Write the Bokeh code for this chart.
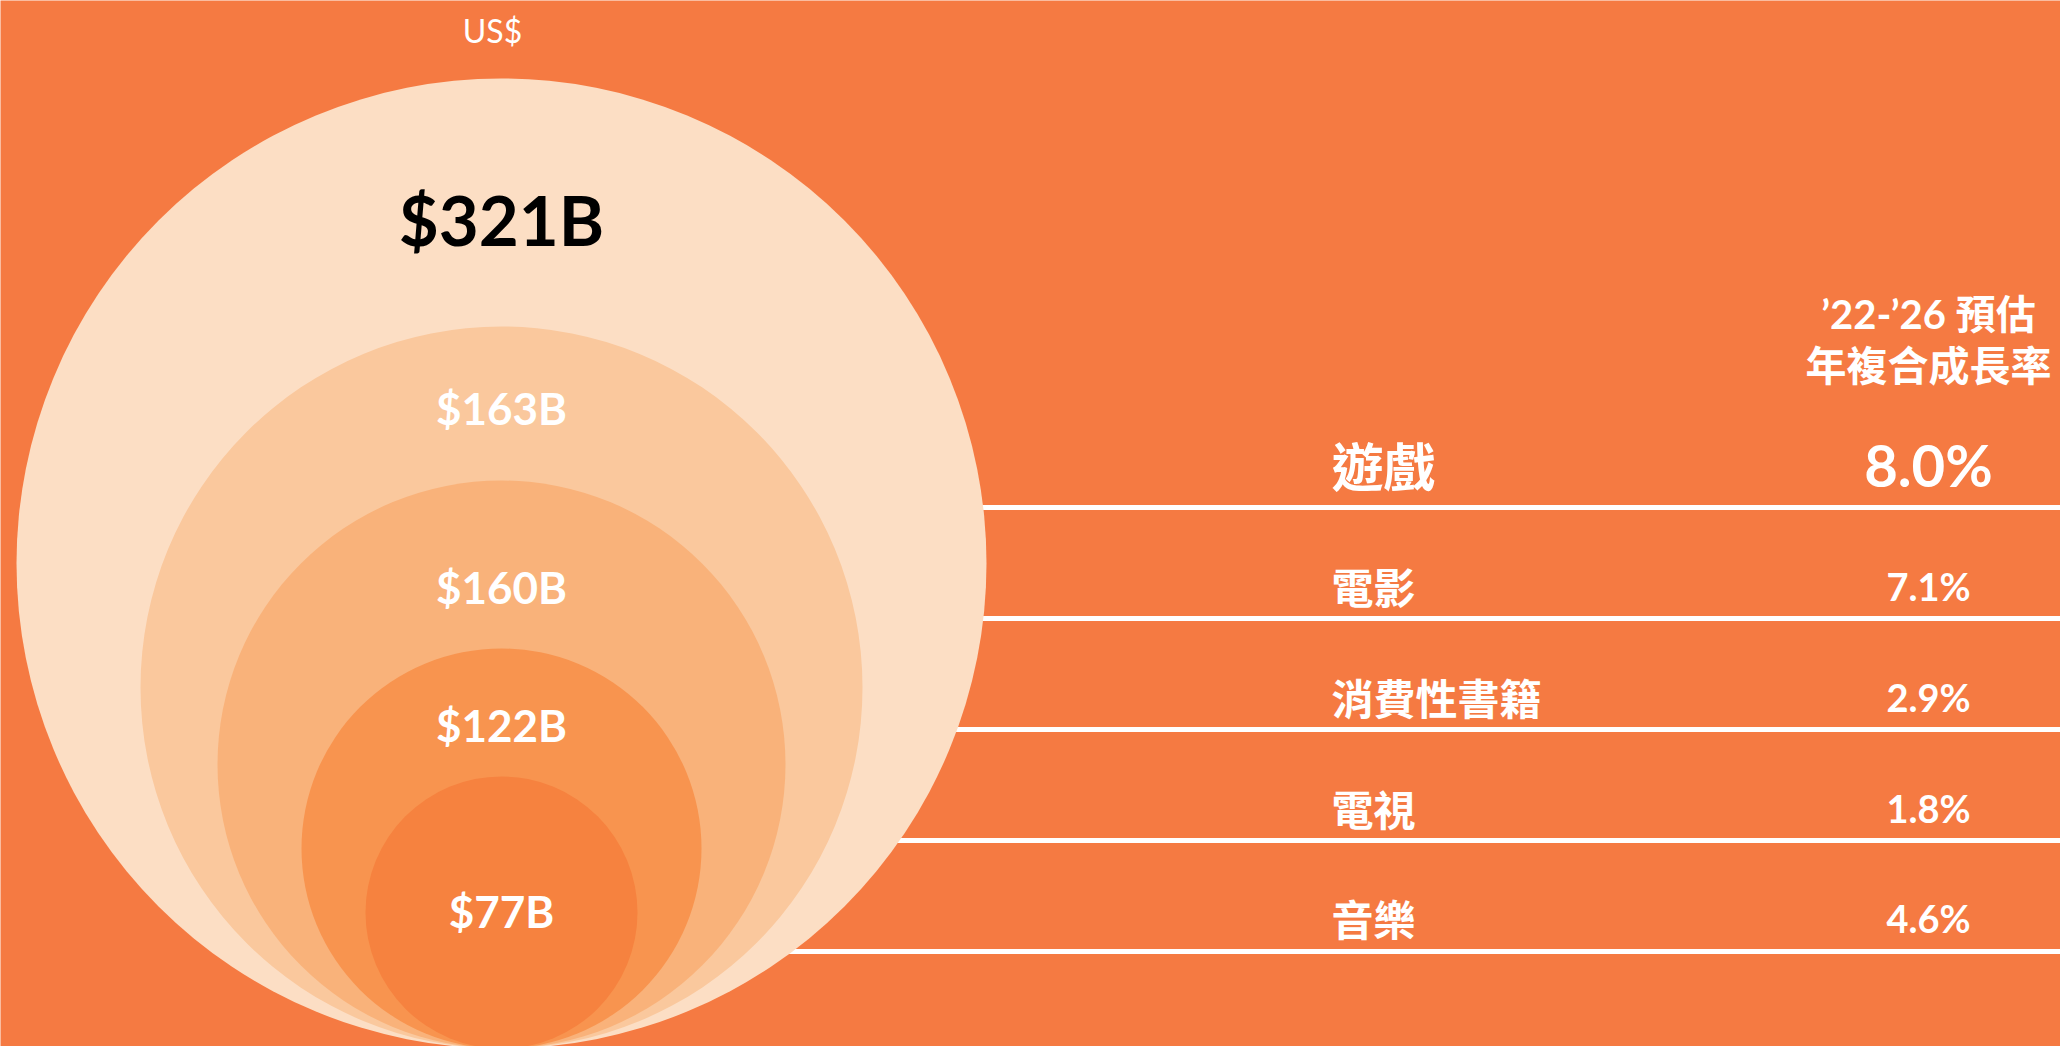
from bokeh.plotting import figure
from bokeh.models import Range1d, ColumnDataSource
from bokeh.core.properties import value
from bokeh.embed import file_html
from bokeh.resources import INLINE

# ---- data ----
market_values = [321, 163, 160, 122, 77]          # US$ billions (nested circles)
market_labels = ["$321B", "$163B", "$160B", "$122B", "$77B"]
categories = ["遊戲", "電影", "消費性書籍", "電視", "音樂"]
cagr = [8.0, 7.1, 2.9, 1.8, 4.6]                    # '22-'26 forecast CAGR, %
unit_label = "US$"
header_lines = ["’22-’26 預估", "年複合成長率"]

# ---- layout / style (pixel coordinates of the page) ----
BG = "#F57A42"
circle_colors = ["#FCDEC4", "#FAC89D", "#F9B27A", "#F8944F", "#F6823F"]
circle_radii = [485, 361, 284, 200, 136]
circle_cx = 501
circle_bottom = 1048
label_y = [219, 407, 586, 724, 910]
label_sizes = ["69px", "44px", "44px", "44px", "44px"]
label_colors = ["#000000", "#FFFFFF", "#FFFFFF", "#FFFFFF", "#FFFFFF"]

row_line_y = [507, 618, 729, 840, 951]
row_text_y = [464, 585, 696, 807, 917]
cat_x = 1331
pct_x = 1928

LATIN = "Lato, 'Noto Sans CJK TC'"
CJK = "'Noto Sans CJK TC'"

W, H = 2060, 1046
p = figure(width=W, height=H, output_backend="svg", toolbar_location=None,
           x_range=Range1d(0, W), y_range=Range1d(H, 0),
           min_border=0, outline_line_color=None,
           background_fill_color=BG, border_fill_color=BG)
p.axis.visible = False
p.grid.visible = False

# white separator lines (start behind the circles)
n = len(row_line_y)
p.segment(x0=[circle_cx] * n, x1=[W + 20] * n,
          y0=row_line_y, y1=row_line_y, line_color="#FFFFFF", line_width=5)

# nested circles
cs = ColumnDataSource(dict(
    x=[circle_cx] * len(market_values),
    y=[circle_bottom - r for r in circle_radii],
    r=circle_radii,
    c=circle_colors,
    v=market_values,
))
p.circle(x="x", y="y", radius="r", fill_color="c", line_color=None, source=cs)

# circle labels
for lab, y, s, col in zip(market_labels, label_y, label_sizes, label_colors):
    p.text(x=[circle_cx], y=[y], text=[lab], text_font=value(LATIN),
           text_font_size=s, text_font_style="bold", text_color=col,
           text_align="center", text_baseline="middle")

# unit
p.text(x=[492], y=[30], text=[unit_label], text_font=value(LATIN),
       text_font_size="32px", text_color="#FFFFFF",
       text_align="center", text_baseline="middle")

# header
p.text(x=[pct_x], y=[313], text=[header_lines[0]], text_font=value(LATIN),
       text_font_size="40px", text_font_style="bold", text_color="#FFFFFF",
       text_align="center", text_baseline="middle")
p.text(x=[pct_x], y=[362], text=[header_lines[1]], text_font=value(CJK),
       text_font_size="41px", text_font_style="bold", text_color="#FFFFFF",
       text_align="center", text_baseline="middle")

# rows
for i, (cat, g, y) in enumerate(zip(categories, cagr, row_text_y)):
    big = i == 0
    p.text(x=[cat_x], y=[y], text=[cat], text_font=value(CJK),
           text_font_size="52px" if big else "42px", text_font_style="bold",
           text_color="#FFFFFF", text_align="left", text_baseline="middle")
    p.text(x=[pct_x], y=[y], text=[f"{g:.1f}%"], text_font=value(LATIN),
           text_font_size="58px" if big else "38px", text_font_style="bold",
           text_color="#FFFFFF", text_align="center", text_baseline="middle")

html = file_html(p, INLINE, title="CAGR")
open("out.html", "w").write(html)
